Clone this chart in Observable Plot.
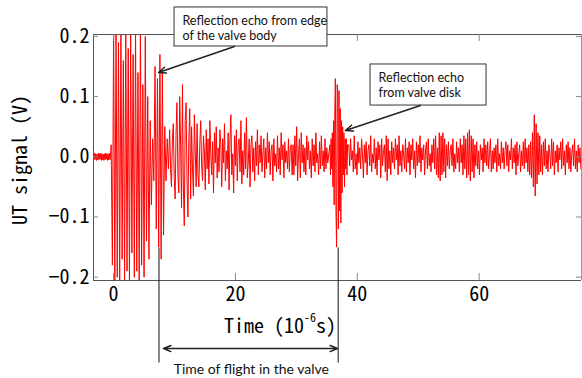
<!DOCTYPE html>
<html><head><meta charset="utf-8">
<script src="https://cdn.jsdelivr.net/npm/d3@7"></script>
<script src="https://cdn.jsdelivr.net/npm/@observablehq/plot@0.6"></script>
<style>body{margin:0;background:#fff} svg{display:block}</style>
</head><body><div id="chart"></div>
<script>
// ---- signal samples (V) ----
const preT = [0.005,-0.005,0.006,-0.004,0.005,-0.006,0.004,-0.005,0.006,-0.005,0.005,-0.004,0.006,-0.006,0.005,-0.005,0.004,-0.006,0.005,-0.005,0.006,-0.004,0.005,-0.006,0.005,-0.005,0.006,-0.005,0.004];
const burst = [0.02,-0.18,0.21,-0.21,0.21,-0.2,0.19,-0.21,0.21,-0.17,0.16,-0.21,0.22,-0.19,0.18,-0.21,0.21,-0.16,0.17,-0.2,0.21,-0.19,0.14,-0.21,0.22,-0.18,0.12,-0.2,0.2,-0.14,0.1,-0.17,0.06,-0.08,0.03,-0.04,0.15,-0.12,0.13,-0.15,0.17,-0.17,0.14,-0.13,0.05,-0.04,0.03,-0.02];
const ring = [0.045,-0.02,-0.05,0.03,0.055,-0.035,
  -0.07,0.04,0.09,-0.03,-0.06,0.1,0.02,-0.085,0.12,-0.05,-0.115,0.06,0.09,-0.04,-0.1,0.03,0.08,-0.07,0.05,-0.02,-0.065,0.07,0.01,-0.05,0.055,-0.03,
  -0.05,0.02,0.06,-0.015,-0.04,0.035,0.01,-0.055,0.045,-0.02,
  0.03,-0.045,0.06,0.005,-0.03,0.025,-0.06,0.04,-0.01,0.05,
  -0.035,0.015,-0.025,0.045,0.02,-0.05,0.03,-0.01,0.055,-0.04,
  0.01,-0.02,0.04,-0.055,0.025,0.07,-0.03,0.005,-0.06,0.035,
  -0.015,0.045,-0.04,0.02,0.03,-0.025,0.06,-0.045,0.01,-0.03,
  0.04,-0.02,0.065,-0.035,-0.01,0.03,-0.05,0.02,0.035,-0.025,
  0.015,-0.04,0.025,-0.015,0.045,-0.03,
  0.02,-0.01,0.035,-0.025,0.005,0.03,-0.035,0.015,-0.02,0.04,
  -0.01,0.025,-0.03,0.01,0.02,-0.04,0.03,-0.015,0.005,-0.025,
  0.035,-0.02,0.015,-0.03,0.04,-0.005,0.02,-0.035,0.025,-0.01,
  0.01,-0.02,0.03,-0.025,0.015,0.02,-0.03,0.02,-0.03,0.035,
  -0.015,0.05,-0.04,0.005,0.03,-0.035,0.04,-0.01,0.02,-0.025,
  0.015,-0.03,0.035,-0.005,0.025,-0.02,0.01,-0.035,0.03,-0.015,
  0.02,-0.025,0.04,-0.01,0.005,-0.03,0.025,-0.02,0.035,-0.015,
  0.01,-0.025,0.03,-0.02,0.015,-0.01];
const echo2 = [0.02,-0.03,0.03,-0.02,0.04,-0.05,0.06,-0.08,0.07,0.13,-0.09,-0.15,0.12,0.1,-0.12,0.11,-0.09,0.08,-0.11,0.06,-0.06,0.05,-0.03,0.04,-0.05,0.03,-0.02,0.03,-0.03,0.02];
const tail = [0.02,-0.015,0.03,-0.005,0.01,-0.025,0.035,-0.02,0.005,-0.03,
  0.025,-0.01,0.015,-0.02,0.03,0.005,-0.035,0.02,-0.01,0.025,
  -0.03,0.01,0.02,-0.015,0.035,-0.025,0.005,-0.01,0.03,-0.02,
  0.015,-0.03,0.025,-0.005,0.02,-0.035,0.03,-0.015,0.01,0.02,
  -0.025,0.035,-0.04,0.03,-0.02,0.01,-0.03,0.025,-0.01,0.015,
  -0.02,0.03,-0.005,0.02,-0.03,0.035,-0.015,0.01,-0.025,0.02,
  0.005,-0.02,0.03,-0.025,0.015,-0.01,0.025,-0.03,0.02,-0.005,
  0.03,-0.02,0.01,-0.035,0.025,-0.015,0.02,-0.01,0.035,-0.025,
  0.015,-0.005,0.02,-0.03,0.01,0.025,-0.02,0.03,-0.015,0.005,
  -0.025,0.02,-0.01,0.03,-0.02,0.035,-0.03,0.015,-0.035,0.04,
  -0.04,0.035,-0.03,0.04,-0.025,0.03,-0.035,0.02,-0.015,0.025,
  -0.02,0.01,0.02,-0.015,0.03,-0.025,0.005,-0.02,0.025,-0.01,
  0.015,-0.025,0.03,-0.01,0.02,-0.03,0.035,-0.02,0.03,-0.035,
  0.04,-0.03,0.045,-0.04,0.035,-0.025,0.03,-0.035,0.02,-0.015,
  0.025,-0.02,0.01,-0.03,0.02,-0.005,0.015,-0.025,0.03,-0.01,
  0.02,-0.015,0.025,-0.02,0.005,0.03,-0.025,0.01,-0.02,0.015,
  -0.01,0.02,-0.025,0.03,-0.015,0.005,-0.02,0.025,-0.01,0.015,
  -0.02,0.01,0.025,-0.015,0.02,-0.025,0.01,-0.005,0.03,-0.02,
  0.015,-0.01,0.02,-0.03,0.025,-0.015,0.005,0.02,-0.025,0.01,
  -0.015,0.025,-0.02,0.03,-0.01,0.015,-0.025,0.02,-0.03,0.025,
  -0.035,0.04,-0.05,0.07,-0.065,0.055,-0.045,0.04,-0.03,0.035,
  -0.025,0.02,-0.03,0.025,-0.015,0.03,-0.02,0.01,-0.025,0.02,
  0.005,-0.02,0.03,-0.015,0.025,-0.03,0.01,-0.01,0.02,-0.025,
  0.015,-0.005,0.025,-0.02,0.03,-0.015,0.01,-0.03,0.02,-0.01,
  0.025,-0.02,0.015,-0.025,0.005,0.02,-0.015,0.03,-0.02,0.01,
  -0.025,0.02,-0.01,0.015,-0.02];
// segment start time (10^-6 s) and sample interval
const segStart = [-3.3, -0.4, 9.2, 35.5, 38.6];
const segStep  = [0.1, 0.2, 0.15, 0.1, 0.15];
const segValues = [preT, burst, ring, echo2, tail];

// ---- axes ----
const xDomain = [-3.3, 76.8];
const yDomain = [-0.2055, 0.2032];
const xTicks = [0, 20, 40, 60];
const yTicks = [-0.2, -0.1, 0, 0.1, 0.2];

// ---- annotations (data units) ----
const boxes = [
  {x1: 10.0, x2: 35.1, y1: 0.1833, y2: 0.2481},
  {x1: 42.17, x2: 61.21, y1: 0.0852, y2: 0.1534}
];
const notes = [
  {x: 11.3, y: 0.2148, text: "Reflection echo from edge\nof the valve body"},
  {x: 43.5, y: 0.1198, text: "Reflection echo\nfrom valve disk"}
];
const pointers = [
  {x1: 19.84, y1: 0.1833, x2: 7.37, y2: 0.1401},
  {x1: 50.37, y1: 0.0852, x2: 38.06, y2: 0.0437}
];
const markers = [
  {x: 7.45, y1: -0.1507, y2: -0.3417},
  {x: 36.86, y1: -0.1507, y2: -0.3417}
];
const span = {x1: 8.19, x2: 36.75, y: -0.3185};
const spanLabel = [{x: 22.6, y: -0.3534, text: "Time of flight in the valve"}];

const signal = [];
segValues.forEach((vals, s) => vals.forEach((v, i) => signal.push({t: segStart[s] + i * segStep[s], v})));

const MONO = "'Noto Sans Mono CJK JP', 'DejaVu Sans Mono', monospace";
const mid = (span.x1 + span.x2) / 2;
const plot = Plot.plot({
  width: 582, height: 378,
  marginLeft: 93, marginRight: 1, marginTop: 34, marginBottom: 98,
  style: {fontFamily: MONO, fontSize: "20px", background: "#fff", color: "#000"},
  x: {domain: xDomain, axis: null},
  y: {domain: yDomain, axis: null},
  marks: [
    Plot.line(signal, {x: "t", y: "v", stroke: "#ff0000", strokeWidth: 1, clip: true}),
    Plot.ruleY([yDomain[1]], {stroke: "#555"}),
    Plot.ruleY([yDomain[0]], {stroke: "#555"}),
    Plot.ruleX([xDomain[0]], {stroke: "#555"}),
    Plot.ruleX([xDomain[1]], {stroke: "#999"}),
    Plot.tickX(xTicks, {x: d => d, stroke: "#888", insetTop: 239}),
    Plot.tickX(xTicks, {x: d => d, stroke: "#888", insetBottom: 239}),
    Plot.tickY(yTicks, {y: d => d, stroke: "#888", insetRight: 483}),
    Plot.tickY(yTicks, {y: d => d, stroke: "#888", insetLeft: 483}),
    Plot.axisX(xTicks, {tickSize: 0, tickPadding: 6, label: null, fontSize: 20}),
    Plot.axisY(yTicks, {tickSize: 0, tickPadding: 4, label: null, fontSize: 20,
      tickFormat: d => (d < 0 ? "−" : "") + Math.abs(d).toFixed(1)}),
    Plot.rect(boxes, {x1: "x1", x2: "x2", y1: "y1", y2: "y2", fill: "white", stroke: "#333"}),
    Plot.text(notes, {x: "x", y: "y", text: "text", textAnchor: "start", lineAnchor: "middle",
      fontFamily: "Lato", fontSize: 12.5, lineHeight: 1.22, fill: "#111"}),
    Plot.arrow(pointers, {x1: "x1", y1: "y1", x2: "x2", y2: "y2", stroke: "#222", headLength: 8, headAngle: 45}),
    Plot.link(markers, {x1: "x", x2: "x", y1: "y1", y2: "y2", stroke: "#111"}),
    Plot.arrow([span], {x1: () => mid, x2: "x1", y1: "y", y2: "y", stroke: "#222", headLength: 8, headAngle: 45}),
    Plot.arrow([span], {x1: () => mid, x2: "x2", y1: "y", y2: "y", stroke: "#222", headLength: 8, headAngle: 45}),
    Plot.text(spanLabel, {x: "x", y: "y", text: "text", fontFamily: "Lato", fontSize: 14, fill: "#111"})
  ]
});
const svg = d3.select(plot);
svg.append("text")
  .attr("transform", "translate(27,160) rotate(-90)")
  .attr("text-anchor", "middle")
  .attr("font-family", MONO).attr("font-size", 20).attr("fill", "#000")
  .text("UT signal (V)");
const xt = svg.append("text")
  .attr("x", 280).attr("y", 333)
  .attr("font-family", MONO).attr("font-size", 20).attr("fill", "#000");
xt.append("tspan").text("Time (10");
xt.append("tspan").attr("dy", -11).attr("font-size", 12).text("-6");
xt.append("tspan").attr("dy", 11).text("s)");
document.getElementById("chart").appendChild(plot);
</script></body></html>
